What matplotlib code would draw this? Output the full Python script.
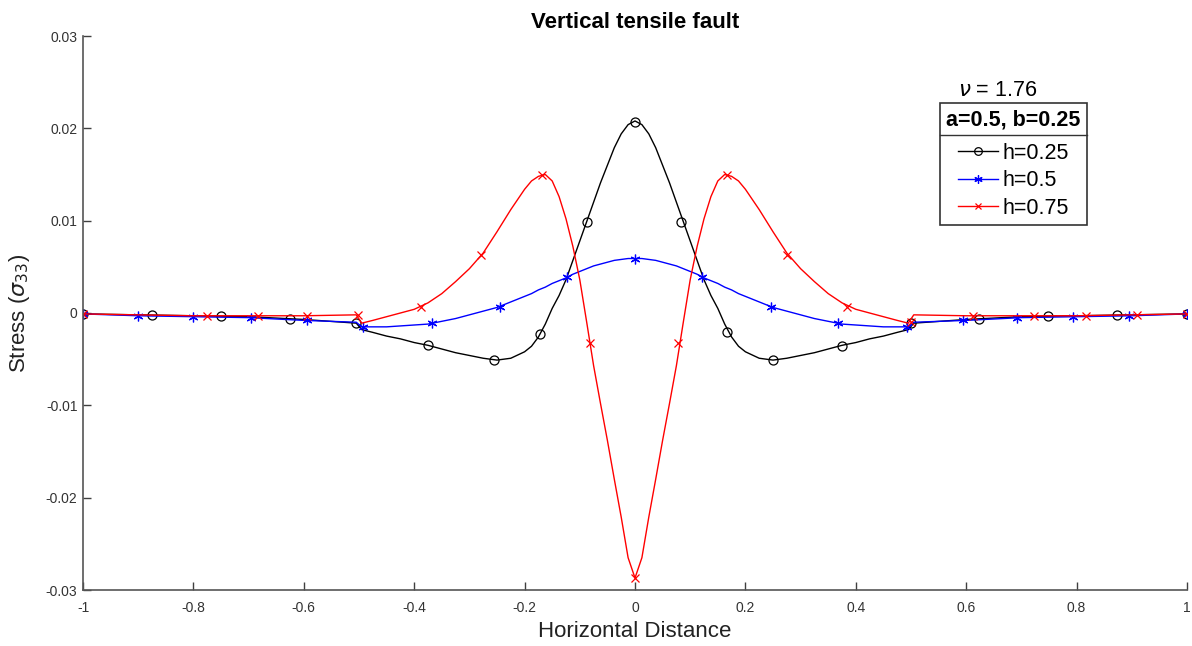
import numpy as np
import matplotlib
matplotlib.use("Agg")
import matplotlib.pyplot as plt
from matplotlib.lines import Line2D

plt.rcParams['font.family'] = ['Liberation Sans', 'DejaVu Sans']
plt.rcParams['mathtext.fontset'] = 'dejavusans'

# horizontal distance samples, jump at +/-0.5
x = [-1.0, -0.9, -0.8, -0.7, -0.6, -0.505,
     -0.495, -0.475, -0.45, -0.425, -0.4, -0.375, -0.35, -0.325, -0.3, -0.275,
     -0.25, -0.225, -0.2, -0.1875, -0.175, -0.1625, -0.15, -0.1375, -0.125, -0.1125,
     -0.1, -0.0875, -0.075, -0.0625, -0.05, -0.0375, -0.025, -0.0125,
     0.0,
     0.0125, 0.025, 0.0375, 0.05, 0.0625, 0.075, 0.0875, 0.1, 0.1125, 0.125,
     0.1375, 0.15, 0.1625, 0.175, 0.1875, 0.2, 0.225, 0.25, 0.275, 0.3,
     0.325, 0.35, 0.375, 0.4, 0.425, 0.45, 0.475, 0.495,
     0.505, 0.6, 0.7, 0.8, 0.9, 1.0]

# h = 0.25
y_h025 = [-0.0001, -0.0002, -0.0003, -0.0004, -0.0007, -0.0011,
          -0.0018, -0.0021, -0.0025, -0.0028, -0.0032, -0.0035, -0.0039, -0.0043, -0.0046, -0.0049,
          -0.0051, -0.0049, -0.0042, -0.0036, -0.0026, -0.0012, 0.0005, 0.0019, 0.0036, 0.0057,
          0.0078, 0.0099, 0.0120, 0.0141, 0.0160, 0.0179, 0.0194, 0.0204,
          0.0208,
          0.0204, 0.0194, 0.0179, 0.0160, 0.0141, 0.0120, 0.0099, 0.0078, 0.0057, 0.0036,
          0.0019, 0.0005, -0.0012, -0.0026, -0.0036, -0.0042, -0.0049, -0.0051, -0.0049, -0.0046,
          -0.0043, -0.0039, -0.0035, -0.0032, -0.0028, -0.0025, -0.0021, -0.0018,
          -0.0011, -0.0007, -0.0004, -0.0003, -0.0002, -0.0001]

# h = 0.5
y_h05 = [-0.0001, -0.0003, -0.0004, -0.0005, -0.0008, -0.0010,
         -0.0015, -0.0015, -0.0015, -0.0014, -0.0013, -0.0012, -0.0009, -0.0006, -0.0002, 0.0002,
         0.0006, 0.0012, 0.0018, 0.0021, 0.0025, 0.0028, 0.0032, 0.0035, 0.0038, 0.0042,
         0.0045, 0.0048, 0.0051, 0.0053, 0.0055, 0.0057, 0.0058, 0.0059,
         0.0059,
         0.0059, 0.0058, 0.0057, 0.0055, 0.0053, 0.0051, 0.0048, 0.0045, 0.0042, 0.0038,
         0.0035, 0.0032, 0.0028, 0.0025, 0.0021, 0.0018, 0.0012, 0.0006, 0.0002, -0.0002,
         -0.0006, -0.0009, -0.0012, -0.0013, -0.0014, -0.0015, -0.0015, -0.0015,
         -0.0010, -0.0008, -0.0005, -0.0004, -0.0003, -0.0001]

# h = 0.75
y_h075 = [-0.0001, -0.0002, -0.0003, -0.0003, -0.0003, -0.0002,
          -0.0011, -0.0008, -0.0004, 0.0000, 0.0004, 0.0011, 0.0021, 0.0034, 0.0048, 0.0065,
          0.0088, 0.0112, 0.0134, 0.0143, 0.0148, 0.0150, 0.0143, 0.0126, 0.0102, 0.0072,
          0.0036, -0.0010, -0.0057, -0.0098, -0.0138, -0.0180, -0.0221, -0.0265,
          -0.0287,
          -0.0265, -0.0221, -0.0180, -0.0138, -0.0098, -0.0057, -0.0010, 0.0036, 0.0072, 0.0102,
          0.0126, 0.0143, 0.0150, 0.0148, 0.0143, 0.0134, 0.0112, 0.0088, 0.0065, 0.0048,
          0.0034, 0.0021, 0.0011, 0.0004, 0.0000, -0.0004, -0.0008, -0.0011,
          -0.0002, -0.0003, -0.0003, -0.0003, -0.0002, -0.0001]

# marker positions
xm_h025 = [-1.0, -0.875, -0.75, -0.625, -0.505, -0.375, -0.255, -0.172, -0.087, 0.0,
           0.083, 0.167, 0.25, 0.375, 0.5, 0.624, 0.748, 0.873, 1.0]
ym_h025 = [-0.0001, -0.0002, -0.0003, -0.0006, -0.0011, -0.0035, -0.0051, -0.0023, 0.0099, 0.0207,
           0.0099, -0.0021, -0.0051, -0.0036, -0.0011, -0.0006, -0.0003, -0.0002, -0.0001]

xm_h05 = [-1.0, -0.9, -0.8, -0.696, -0.594, -0.493, -0.367, -0.245, -0.123, 0.0,
          0.122, 0.246, 0.368, 0.493, 0.594, 0.692, 0.793, 0.895, 1.0]
ym_h05 = [-0.0001, -0.0003, -0.0004, -0.0005, -0.0008, -0.0015, -0.0011, 0.0007, 0.0039, 0.0059,
          0.0039, 0.0007, -0.0011, -0.0015, -0.0008, -0.0005, -0.0004, -0.0003, -0.0001]

xm_h075 = [-1.0, -0.775, -0.683, -0.594, -0.502, -0.388, -0.279, -0.168, -0.082, 0.0,
           0.078, 0.166, 0.275, 0.384, 0.5, 0.612, 0.723, 0.817, 0.909, 1.0]
ym_h075 = [-0.0001, -0.0003, -0.0003, -0.0003, -0.0002, 0.0007, 0.0063, 0.0150, -0.0033, -0.0287,
           -0.0033, 0.0150, 0.0063, 0.0007, -0.0010, -0.0003, -0.0003, -0.0003, -0.0002, -0.0001]

xticks = [-1, -0.8, -0.6, -0.4, -0.2, 0, 0.2, 0.4, 0.6, 0.8, 1]
xtick_labels = ['-1', '-0.8', '-0.6', '-0.4', '-0.2', '0', '0.2', '0.4', '0.6', '0.8', '1']
yticks = [-0.03, -0.02, -0.01, 0, 0.01, 0.02, 0.03]
ytick_labels = ['-0.03', '-0.02', '-0.01', '0', '0.01', '0.02', '0.03']

fig = plt.figure(figsize=(11.92, 6.46), dpi=100)
ax = fig.add_axes([83 / 1192, 1 - 590 / 646, 1104 / 1192, 554 / 646])

series = [
    (x, y_h025, xm_h025, ym_h025, 'k', 'o', 'h=0.25', dict(markersize=6.5, markerfacecolor='none')),
    (x, y_h05, xm_h05, ym_h05, 'b', (6, 2, 0), 'h=0.5', dict(markersize=7)),
    (x, y_h075, xm_h075, ym_h075, 'r', 'x', 'h=0.75', dict(markersize=5.5)),
]

handles = []
for xs, ys, xm, ym, c, mk, lab, mkw in series:
    ax.plot(xs, ys, color=c, lw=1.0)
    ax.plot(xm, ym, ls='none', marker=mk, color=c, markeredgewidth=0.9, **mkw)
    hk = dict(mkw)
    hk['markersize'] = mkw['markersize'] - 1
    handles.append(Line2D([], [], color=c, lw=1.0, marker=mk, markeredgewidth=0.9,
                          label=lab, **hk))

ax.set_xlim(-1, 1)
ax.set_ylim(-0.03, 0.03)
ax.set_xticks(xticks)
ax.set_xticklabels(xtick_labels)
ax.set_yticks(yticks)
ax.set_yticklabels(ytick_labels)
ax.tick_params(direction='in', length=6, width=1.0, colors='#404040', labelsize=10,
               labelcolor='#333333')
ax.tick_params(axis='x', pad=8)
ax.tick_params(axis='y', pad=4)
for s in ['top', 'right']:
    ax.spines[s].set_visible(False)
for s in ['left', 'bottom']:
    ax.spines[s].set_color('#555555')
    ax.spines[s].set_linewidth(1.2)

ax.set_title('Vertical tensile fault', fontsize=16, fontweight='bold', pad=6)
ax.set_xlabel('Horizontal Distance', fontsize=16, labelpad=4, color='#222222')
ax.set_ylabel(r'Stress ($\sigma_{33}$)', fontsize=16, color='#222222')
ax.yaxis.set_label_coords(-0.046, 0.5)

leg = ax.legend(handles=handles, loc='upper right',
                bbox_to_anchor=(1087 / 1192, 1 - 103 / 646), bbox_transform=fig.transFigure,
                borderaxespad=0, title='a=0.5, b=0.25',
                title_fontproperties={'weight': 'bold', 'size': 15.5},
                fontsize=15.5, handlelength=1.85, handletextpad=0.2, labelspacing=0.3,
                borderpad=0.3, fancybox=False, framealpha=1, edgecolor='#333333')
leg.get_frame().set_linewidth(1.2)
leg._legend_box.sep = 9

fig.text(958 / 1192, 1 - 90 / 646, r'$\nu$ = 1.76', fontsize=15.5, ha='left', va='center')

# separator line under the legend header
fig.canvas.draw()
r = fig.canvas.get_renderer()
lb = leg.get_frame().get_window_extent(r)
tb = leg.get_title().get_window_extent(r)
inv = fig.transFigure.inverted()
x0, y0 = inv.transform((lb.x0, tb.y0 - 5))
x1, _ = inv.transform((lb.x1, tb.y0 - 5))
fig.add_artist(Line2D([x0, x1], [y0, y0], transform=fig.transFigure, color='#333333', lw=1.0))

fig.savefig('out.png', dpi=100)
